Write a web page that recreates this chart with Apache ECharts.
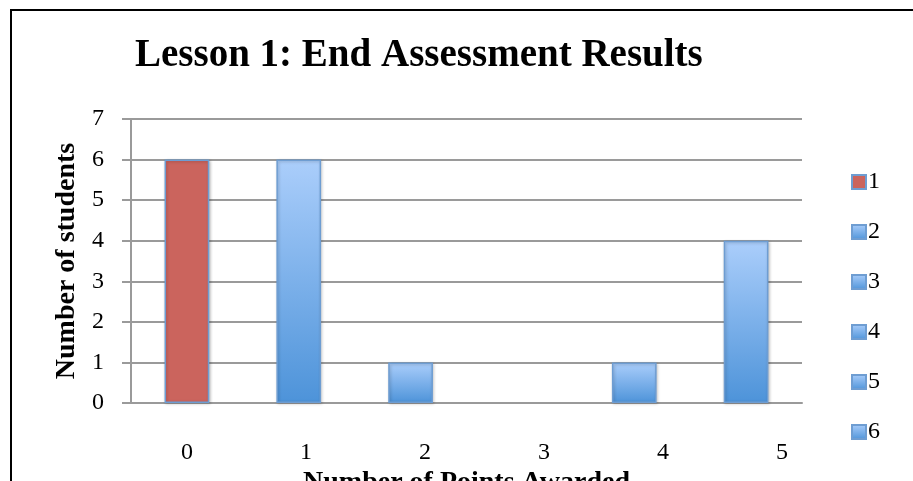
<!DOCTYPE html>
<html>
<head>
<meta charset="utf-8">
<title>Lesson 1: End Assessment Results</title>
<script src="https://cdn.jsdelivr.net/npm/echarts@6/dist/echarts.min.js"></script>
<style>
  html, body { margin: 0; padding: 0; background: #ffffff; }
  #chart { width: 913px; height: 481px; }
</style>
</head>
<body>
<div id="chart"></div>
<script>
// Points awarded on the end assessment and how many students scored each
const pointCategories = ['0', '1', '2', '3', '4', '5'];
const studentCounts = [6, 6, 1, 0, 1, 4];
const seriesNames = ['1', '2', '3', '4', '5', '6'];
const yTicks = { min: 0, max: 7, interval: 1 };

const serifFont = '"Liberation Serif", "DejaVu Serif", serif';

const blueFill = new echarts.graphic.LinearGradient(0, 0, 0, 1, [
  { offset: 0, color: '#abcefb' },
  { offset: 1, color: '#4d93d9' }
]);
const redFill = '#cb645d';

// One series per legend entry; each one holds a single column so the
// legend lists them individually, while stacking keeps the bars centred.
const series = seriesNames.map((name, i) => ({
  name: name,
  type: 'bar',
  stack: 'all',
  barWidth: '40%',
  xAxisIndex: 0,
  yAxisIndex: 0,
  itemStyle: {
    color: i === 0 ? redFill : blueFill,
    borderColor: '#6e9dd2',
    borderWidth: 1.5,
    shadowColor: 'rgba(0,0,0,0.22)',
    shadowBlur: 3,
    shadowOffsetX: 1,
    shadowOffsetY: 1
  },
  data: pointCategories.map((c, j) => {
    if (j !== i) return '-';
    const v = studentCounts[i];
    // an empty column gets no outline so nothing shows on the axis
    return v === 0
      ? { value: v, itemStyle: { borderWidth: 0, shadowBlur: 0, shadowOffsetX: 0, shadowOffsetY: 0 } }
      : v;
  })
}));

const chart = echarts.init(document.getElementById('chart'), null, { renderer: 'canvas' });

chart.setOption({
  animation: false,
  backgroundColor: '#ffffff',
  textStyle: { fontFamily: serifFont },
  title: {
    text: 'Lesson 1: End Assessment Results',
    left: 130,
    top: 31,
    textStyle: {
      fontFamily: serifFont,
      fontWeight: 'bold',
      fontSize: 39,
      color: '#000000'
    }
  },
  legend: {
    orient: 'vertical',
    left: 846,
    top: 165,
    itemWidth: 14,
    itemHeight: 14,
    itemGap: 26,
    icon: 'rect',
    selectedMode: false,
    textStyle: { fontFamily: serifFont, fontSize: 24, color: '#000000', padding: [0, 0, 0, -3] },
    data: seriesNames
  },
  grid: [
    { left: 131, top: 119, width: 671, height: 284, containLabel: false, outerBoundsMode: 'none' },
    // Label strip for the category tick labels along the bottom
    { left: 127.5, top: 119, width: 714, height: 284, containLabel: false, outerBoundsMode: 'none' }
  ],
  xAxis: [
    {
      type: 'category',
      gridIndex: 0,
      data: pointCategories,
      axisLine: { show: true, lineStyle: { color: '#9a9a9a', width: 2 } },
      axisTick: { show: false },
      axisLabel: { show: false },
      splitLine: { show: false },
      name: 'Number of Points Awarded',
      nameLocation: 'middle',
      nameGap: 66,
      nameTextStyle: {
        fontFamily: serifFont,
        fontWeight: 'bold',
        fontSize: 28,
        color: '#000000'
      }
    },
    {
      type: 'category',
      gridIndex: 1,
      data: pointCategories,
      axisLine: { show: false },
      axisTick: { show: false },
      splitLine: { show: false },
      axisLabel: {
        show: true,
        margin: 38,
        fontFamily: serifFont,
        fontSize: 24,
        lineHeight: 24,
        color: '#000000'
      }
    }
  ],
  yAxis: [
    {
      type: 'value',
      gridIndex: 0,
      min: yTicks.min,
      max: yTicks.max,
      interval: yTicks.interval,
      axisLine: { show: true, lineStyle: { color: '#9a9a9a', width: 2 } },
      axisTick: { show: true, inside: false, length: 9, lineStyle: { color: '#9a9a9a', width: 2 } },
      splitLine: { show: true, lineStyle: { color: '#9a9a9a', width: 2 } },
      axisLabel: {
        margin: 27,
        fontFamily: serifFont,
        fontSize: 24,
        color: '#000000'
      },
      name: 'Number of students',
      nameLocation: 'middle',
      nameGap: 48,
      nameRotate: 90,
      nameTextStyle: {
        fontFamily: serifFont,
        fontWeight: 'bold',
        fontSize: 28,
        color: '#000000'
      }
    },
    {
      type: 'value',
      gridIndex: 1,
      min: yTicks.min,
      max: yTicks.max,
      show: false
    }
  ],
  series: series,
  graphic: [
    {
      type: 'rect',
      z: 100,
      silent: true,
      shape: { x: 11, y: 10, width: 920, height: 500 },
      style: { fill: 'none', stroke: '#000000', lineWidth: 2 }
    }
  ]
});
</script>
</body>
</html>
